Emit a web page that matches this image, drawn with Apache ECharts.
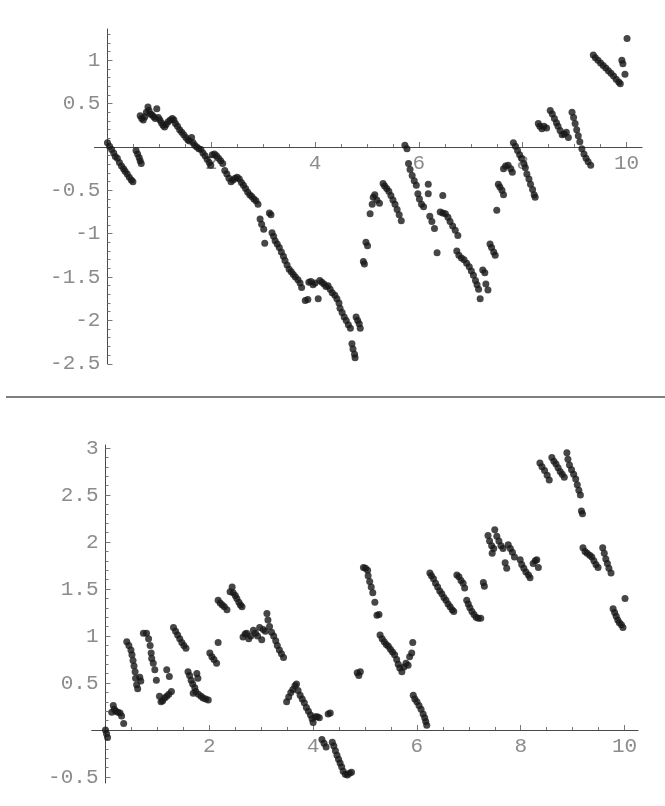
<!DOCTYPE html>
<html><head><meta charset="utf-8">
<script src="https://cdn.jsdelivr.net/npm/echarts@6/dist/echarts.min.js"></script>
<style>html,body{margin:0;padding:0;background:#fff}#c{width:665px;height:806px}</style>
</head><body><div id="c"></div>
<script>
// ---------- data: top panel ----------
const topA = [[0.0,0.05],[0.04,0.01],[0.08,-0.03],[0.12,-0.07],[0.15,-0.11],[0.19,-0.13],[0.23,-0.18],[0.27,-0.22],[0.31,-0.25],[0.34,-0.28],[0.38,-0.31],[0.42,-0.35],[0.46,-0.38],[0.49,-0.40],
 [0.55,-0.04],[0.58,-0.08],[0.61,-0.12],[0.63,-0.16],[0.65,-0.19],
 [0.63,0.36],[0.66,0.33],[0.69,0.31],[0.72,0.35],[0.75,0.40],[0.78,0.46],[0.80,0.42],[0.83,0.38],[0.86,0.37],[0.89,0.35],[0.92,0.33],[0.95,0.44],[0.98,0.34],[1.01,0.31],[1.04,0.28],[1.07,0.25],[1.10,0.23],[1.13,0.26],[1.17,0.29],[1.21,0.31],[1.25,0.33],[1.28,0.31],[1.31,0.27],[1.35,0.24],[1.39,0.20],[1.43,0.17],[1.47,0.14],[1.51,0.11],[1.55,0.08],[1.58,0.07],[1.62,0.11],[1.65,0.05],[1.68,0.02],[1.72,0.0],[1.76,-0.02],[1.80,-0.03],[1.84,-0.07],[1.88,-0.10],[1.92,-0.14],[1.96,-0.18],[1.99,-0.21],[2.02,-0.09],[2.06,-0.08],[2.10,-0.10],[2.14,-0.13],[2.18,-0.16],[2.22,-0.19]];
const topB = [[2.26,-0.27],[2.30,-0.31],[2.34,-0.36],[2.38,-0.40],[2.42,-0.38],[2.46,-0.36],[2.50,-0.35],[2.54,-0.37],[2.58,-0.41],[2.62,-0.44],[2.66,-0.48],[2.70,-0.52],[2.74,-0.55],[2.78,-0.57],[2.82,-0.60],[2.86,-0.62],[2.90,-0.66],
 [2.94,-0.83],[2.97,-0.89],[3.01,-0.95],[3.03,-1.11],[3.12,-0.76],[3.15,-0.78],[3.17,-0.99],[3.20,-1.03],[3.23,-1.08],[3.27,-1.12],[3.31,-1.16],[3.35,-1.21],[3.39,-1.26],[3.42,-1.31],[3.46,-1.36],[3.50,-1.41],[3.54,-1.44],[3.58,-1.47],[3.62,-1.50],[3.67,-1.53],[3.71,-1.57],[3.74,-1.62],[3.81,-1.77],[3.86,-1.76],[3.88,-1.56],[3.92,-1.55],[3.96,-1.59],[4.00,-1.57],[4.06,-1.75],[4.09,-1.54],[4.13,-1.56],[4.17,-1.58],[4.21,-1.61],[4.25,-1.60],[4.29,-1.64],[4.33,-1.68],[4.38,-1.71],[4.42,-1.75],
 [4.46,-1.80],[4.48,-1.86],[4.52,-1.91],[4.56,-1.96],[4.60,-2.00],[4.64,-2.05],[4.68,-2.09],[4.79,-1.96],[4.82,-2.00],[4.85,-2.04],[4.87,-2.09],[4.71,-2.27],[4.73,-2.33],[4.76,-2.39],[4.77,-2.43]];
const topC = [[4.98,-1.10],[5.01,-1.14],[4.93,-1.32],[4.95,-1.35],
 [5.06,-0.77],[5.10,-0.66],[5.12,-0.58],[5.15,-0.55],[5.19,-0.61],[5.24,-0.65],[5.31,-0.42],[5.34,-0.45],[5.38,-0.48],[5.42,-0.51],[5.46,-0.56],[5.50,-0.61],[5.54,-0.66],[5.58,-0.72],[5.62,-0.78],[5.66,-0.85],
 [5.73,0.02],[5.77,-0.02],[5.80,-0.19],[5.83,-0.26],[5.87,-0.33],[5.91,-0.39],[5.95,-0.44],[5.98,-0.54],[6.01,-0.60],[6.05,-0.66],[6.09,-0.69],[6.18,-0.43],[6.18,-0.54],[6.21,-0.80],[6.25,-0.86],[6.30,-0.94],[6.35,-1.22],[6.41,-0.75],[6.46,-0.56],[6.46,-0.76],[6.51,-0.77],[6.56,-0.81],[6.60,-0.86],[6.65,-0.91],[6.70,-0.96],[6.75,-1.02],
 [6.73,-1.20],[6.77,-1.25],[6.82,-1.28],[6.87,-1.30],[6.92,-1.34],[6.97,-1.38],[7.01,-1.43],[7.05,-1.48],[7.09,-1.54],[7.12,-1.59],[7.15,-1.64],[7.18,-1.75],[7.23,-1.42],[7.27,-1.45],[7.29,-1.58],[7.33,-1.65]];
const topD = [[7.37,-1.12],[7.40,-1.16],[7.44,-1.21],[7.47,-1.25],[7.50,-0.73],[7.53,-0.43],[7.56,-0.46],[7.60,-0.50],[7.63,-0.55],[7.63,-0.25],[7.67,-0.22],[7.72,-0.21],[7.77,-0.25],[7.80,-0.29],[7.82,0.05],[7.86,0.01],[7.90,-0.04],[7.94,-0.09],[7.98,-0.13],[8.02,-0.19],[8.05,-0.24],[8.08,-0.31],[8.12,-0.37],[8.15,-0.43],[8.19,-0.49],[8.22,-0.55],[8.24,-0.58],
 [8.30,0.27],[8.33,0.24],[8.37,0.21],[8.41,0.24],[8.46,0.22],[8.53,0.42],[8.57,0.38],[8.61,0.33],[8.65,0.28],[8.68,0.24],[8.72,0.19],[8.76,0.14],[8.80,0.15],[8.84,0.17],[8.88,0.11],[8.95,0.40],[8.98,0.34],[9.01,0.27],[9.04,0.20],[9.07,0.13],[9.10,0.06],[9.14,-0.02],[9.18,-0.08],[9.22,-0.13],[9.26,-0.17],[9.31,-0.21],
 [9.36,1.06],[9.40,1.03],[9.45,1.00],[9.50,0.97],[9.55,0.94],[9.60,0.91],[9.65,0.88],[9.70,0.85],[9.75,0.82],[9.80,0.78],[9.85,0.75],[9.88,0.73],[9.91,1.00],[9.93,0.96],[9.97,0.84],[10.01,1.25]];

// ---------- data: bottom panel ----------
const botA = [[0.0,0.0],[0.02,-0.04],[0.04,-0.08],
 [0.12,0.19],[0.15,0.26],[0.17,0.22],[0.20,0.20],[0.24,0.19],[0.28,0.18],[0.31,0.15],[0.35,0.07],
 [0.41,0.94],[0.45,0.90],[0.49,0.85],[0.51,0.80],[0.53,0.74],[0.55,0.68],[0.57,0.62],[0.58,0.55],[0.60,0.48],[0.62,0.44],[0.66,0.56],[0.68,0.52],
 [0.73,1.03],[0.79,1.03],[0.83,0.97],[0.86,0.90],[0.88,0.82],[0.89,0.76],[0.92,0.71],[0.95,0.64],[0.98,0.53],[1.04,0.36],[1.07,0.30],[1.10,0.31],[1.14,0.34],[1.18,0.36],[1.22,0.38],[1.27,0.41],[1.18,0.64],[1.23,0.57],
 [1.31,1.09],[1.35,1.05],[1.39,1.01],[1.43,0.97],[1.47,0.93],[1.51,0.90],[1.55,0.87],
 [1.59,0.62],[1.62,0.58],[1.65,0.53],[1.68,0.49],[1.72,0.45],[1.76,0.60],[1.78,0.55],[1.69,0.39],[1.74,0.41],[1.79,0.38],[1.84,0.36],[1.88,0.34],[1.93,0.33],[1.98,0.32],
 [2.01,0.82],[2.05,0.78],[2.09,0.75],[2.14,0.71],[2.17,0.93]];
const botB = [[2.17,1.38],[2.21,1.35],[2.25,1.33],[2.29,1.31],[2.34,1.28],[2.40,1.47],[2.44,1.52],[2.46,1.46],[2.50,1.43],[2.53,1.40],[2.57,1.36],[2.60,1.33],[2.63,1.31],
 [2.65,0.99],[2.69,1.02],[2.72,1.03],[2.76,0.97],[2.80,1.00],[2.85,1.06],[2.89,1.03],[2.93,1.00],[2.97,1.09],[3.01,0.96],[3.04,1.07],[3.08,1.05],[3.11,1.24],[3.13,1.17],[3.16,1.10],[3.20,1.04],[3.24,1.00],[3.28,0.95],[3.31,0.90],[3.35,0.85],[3.39,0.81],[3.43,0.77],
 [3.49,0.30],[3.53,0.35],[3.57,0.40],[3.61,0.43],[3.65,0.47],[3.68,0.49],[3.71,0.42],[3.75,0.37],[3.79,0.33],[3.83,0.29],[3.87,0.24],[3.91,0.20],[3.95,0.16],[3.98,0.12],[4.00,0.08],[4.04,0.14],[4.08,0.14],[4.12,0.13],[4.29,0.17],[4.33,0.18],
 [4.17,-0.10],[4.21,-0.14],[4.25,-0.18],[4.37,-0.13],[4.40,-0.17],[4.43,-0.22],[4.46,-0.27],[4.49,-0.31],[4.52,-0.35],[4.55,-0.39],[4.58,-0.44],[4.62,-0.47],[4.66,-0.48],[4.70,-0.46],[4.74,-0.45]];
const botC = [[4.85,0.61],[4.88,0.58],[4.91,0.62],
 [4.97,1.73],[5.01,1.72],[5.05,1.70],[5.06,1.64],[5.09,1.58],[5.12,1.52],[5.15,1.46],[5.19,1.36],[5.23,1.22],[5.27,1.23],
 [5.29,1.01],[5.33,0.97],[5.37,0.94],[5.41,0.91],[5.45,0.89],[5.49,0.86],[5.53,0.83],[5.57,0.80],[5.61,0.75],[5.64,0.70],[5.67,0.66],[5.71,0.62],[5.75,0.67],[5.79,0.71],[5.83,0.69],[5.86,0.78],[5.90,0.82],[5.92,0.93],
 [5.93,0.37],[5.96,0.33],[6.00,0.30],[6.04,0.26],[6.08,0.22],[6.12,0.17],[6.15,0.13],[6.17,0.09],[6.19,0.05],
 [6.25,1.67],[6.28,1.64],[6.32,1.61],[6.36,1.56],[6.40,1.52],[6.44,1.48],[6.48,1.45],[6.52,1.41],[6.56,1.38],[6.60,1.34],[6.64,1.31],[6.68,1.28],[6.71,1.26],
 [6.77,1.65],[6.81,1.63],[6.85,1.59],[6.89,1.56],[6.92,1.51],[6.96,1.38],[6.99,1.34],[7.02,1.30],[7.06,1.26],[7.10,1.23],[7.14,1.20],[7.18,1.19],[7.23,1.19],
 [7.28,1.57],[7.30,1.53]];
const botD = [[7.37,2.07],[7.40,2.01],[7.44,1.96],[7.45,1.88],[7.48,1.93],[7.50,2.13],[7.54,2.06],[7.58,2.01],[7.62,1.96],[7.66,1.93],[7.70,1.78],[7.73,1.72],[7.76,1.97],[7.80,1.93],[7.84,1.89],[7.88,1.84],[7.99,1.81],[8.02,1.76],[8.06,1.72],[8.10,1.68],[8.15,1.65],[8.18,1.62],[8.24,1.77],[8.28,1.80],[8.31,1.81],[8.34,1.73],
 [8.37,2.84],[8.41,2.80],[8.46,2.76],[8.51,2.71],[8.55,2.66],[8.60,2.90],[8.64,2.86],[8.68,2.83],[8.72,2.79],[8.76,2.75],[8.80,2.72],[8.84,2.69],[8.89,2.95],[8.91,2.88],[8.94,2.82],[8.98,2.77],[9.02,2.72],[9.06,2.67],[9.09,2.61],[9.12,2.55],[9.15,2.50],[9.17,2.33],[9.19,2.30],
 [9.20,1.94],[9.24,1.90],[9.28,1.88],[9.33,1.86],[9.37,1.84],[9.41,1.80],[9.45,1.76],[9.49,1.73],[9.58,1.94],[9.61,1.88],[9.64,1.82],[9.67,1.77],[9.70,1.72],[9.74,1.67],
 [9.78,1.29],[9.81,1.25],[9.84,1.21],[9.87,1.17],[9.90,1.14],[9.94,1.12],[9.97,1.09],[10.01,1.40]];

// ---------- tick labels ----------
const xLabels = [2,4,6,8,10];
const topYLabels = [-2.5,-2,-1.5,-1,-0.5,0.5,1];
const botYLabels = [-0.5,0.5,1,1.5,2,2.5,3];

function minorList(lo, hi, step, majors){
  const out=[]; const n=Math.round((hi-lo)/step);
  for(let i=0;i<=n;i++){const v=+(lo+i*step).toFixed(4); if(majors.indexOf(v)<0 && v!==0) out.push(v);}
  return out;
}
const xMinor = minorList(0,10,0.5,xLabels);
const topYMinor = minorList(-2.5,1.3,0.1,topYLabels);
const botYMinor = minorList(-0.5,3,0.1,botYLabels);

const FONT = {fontFamily:'Liberation Mono', fontSize:21, color:'#8c8c8c'};
const AXC = '#4a4a4a';

const G = [{left:94.5,top:29,width:547.6,height:334.75},{left:91.7,top:445,width:546.3,height:338}];
const YR = [[-2.5,1.361],[-0.564,3.032]];
const XR = [[-0.25,10.3],[-0.266,10.26]];

function xAx(grid,major){
  const yr=YR[grid]; const off=-(0-yr[0])/(yr[1]-yr[0])*G[grid].height;
  return {gridIndex:grid,type:'value',min:XR[grid][0],max:XR[grid][1],splitLine:{show:false},position:'bottom',offset:off,
    axisLine:{show:true,onZero:false,lineStyle:{color:AXC,width:1,opacity:major?1:0}},
    axisTick:{show:true,inside:true,length:major?5:3,customValues:major?xLabels:xMinor,lineStyle:{color:'#777',width:1}},
    axisLabel:{show:major,customValues:xLabels,margin:6,formatter:v=>String(v),...FONT}};
}
function yAx(grid,major,labels,minor){
  const xr=XR[grid]; const off=-(0-xr[0])/(xr[1]-xr[0])*G[grid].width;
  return {gridIndex:grid,type:'value',min:YR[grid][0],max:YR[grid][1],splitLine:{show:false},position:'left',offset:off,
    axisLine:{show:true,onZero:false,lineStyle:{color:AXC,width:1,opacity:major?1:0}},
    axisTick:{show:true,inside:true,length:major?5:3,customValues:major?labels:minor,lineStyle:{color:'#777',width:1}},
    axisLabel:{show:major,customValues:labels,margin:7,formatter:v=>String(v),...FONT}};
}
function sc(xi,yi,data){
  return {type:'scatter',xAxisIndex:xi,yAxisIndex:yi,data:data,symbol:'circle',symbolSize:7,
    itemStyle:{color:'#181818'},silent:true,animation:false};
}

const chart = echarts.init(document.getElementById('c'),null,{renderer:'canvas'});
chart.setOption({
  backgroundColor:'#ffffff',
  animation:false,
  grid:G,
  xAxis:[xAx(0,true),xAx(0,false),xAx(1,true),xAx(1,false)],
  yAxis:[yAx(0,true,topYLabels,topYMinor),yAx(0,false,topYLabels,topYMinor),
         yAx(1,true,botYLabels,botYMinor),yAx(1,false,botYLabels,botYMinor)],
  series:[sc(0,0,topA),sc(0,0,topB),sc(0,0,topC),sc(0,0,topD),
          sc(2,2,botA),sc(2,2,botB),sc(2,2,botC),sc(2,2,botD)],
  graphic:[{type:'line',shape:{x1:6,y1:397,x2:665,y2:397},style:{stroke:'#555',lineWidth:1.5},silent:true}]
});
</script></body></html>
